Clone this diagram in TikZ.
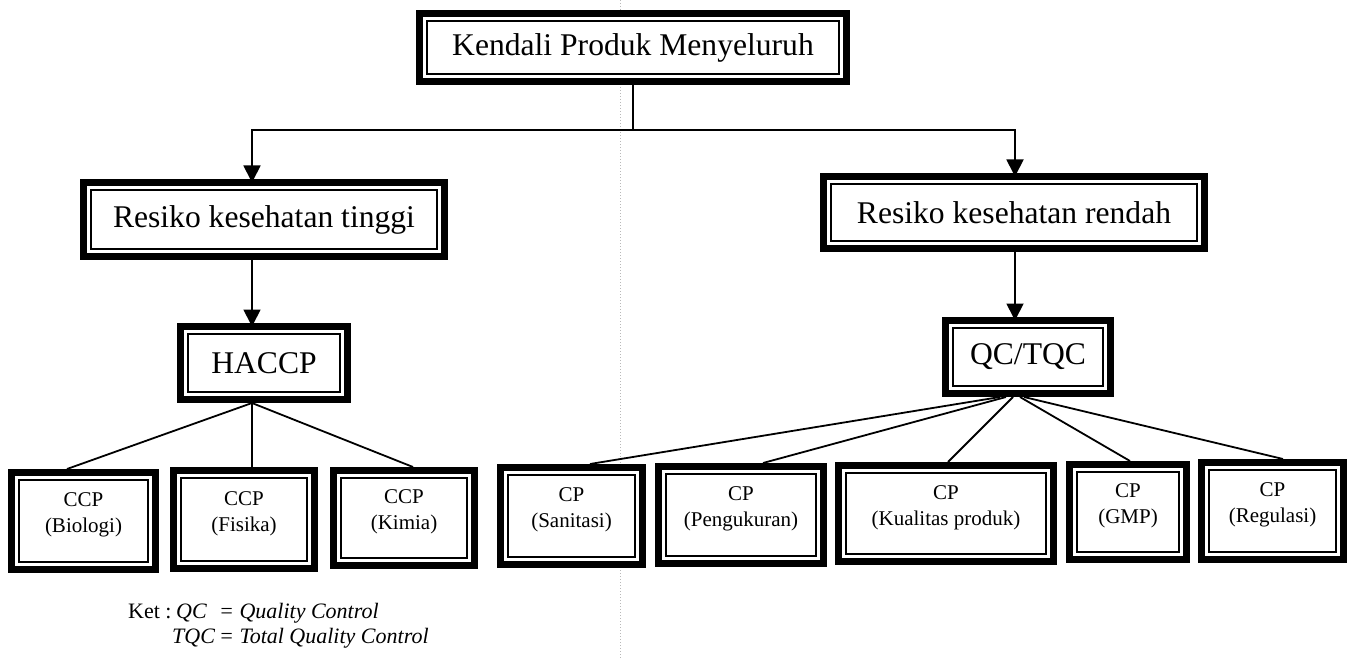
\documentclass[tikz,border=0pt]{standalone}
\usepackage{fontspec}
\setmainfont{Liberation Serif}
\usetikzlibrary{arrows.meta}
\begin{document}
\begin{tikzpicture}[x=1pt,y=-1pt,
  frame/.style={draw, line width=7pt, fill=white, inner sep=0pt, align=center,
    path picture={\draw[line width=2pt]
      ([shift={(7.5pt,-7.5pt)}]path picture bounding box.north west) rectangle
      ([shift={(-7.5pt,7.5pt)}]path picture bounding box.south east);}},
  big/.style={frame, font=\fontsize{31.6}{37}\selectfont},
  boxtext/.style={align=center, inner sep=0pt, font=\fontsize{21}{26}\selectfont},
  ln/.style={line width=1.8pt},
  arr/.style={ln, -{Triangle[width=17pt,length=17pt]}, shorten >=-3.5pt},
  note/.style={inner sep=0pt, anchor=base west, font=\fontsize{22}{26}\selectfont}]

\useasboundingbox (0,0) rectangle (1352,658);

% faint dotted fold line down the page
\draw[gray!55, dotted, line width=1pt] (620,0) -- (620,658);

% upper levels
\node[big, minimum width=427pt, minimum height=68pt] (top) at (633,47.5) {Kendali Produk Menyeluruh};
\node[big, minimum width=361pt, minimum height=74pt] (tin) at (264,219.5) {Resiko kesehatan tinggi};
\node[big, minimum width=381pt, minimum height=72pt] (ren) at (1014,212.5) {Resiko kesehatan rendah};
\node[big, minimum width=167pt, minimum height=73pt] (hac) at (264,363) {HACCP};
\node[big, minimum width=165pt, minimum height=73pt] (qc) at (1028,357) {QC/TQC};

% control point boxes
\node[frame, minimum width=144pt, minimum height=97pt] (bio) at (83.5,521) {};
\node[frame, minimum width=141pt, minimum height=98pt] (fis) at (244,519.5) {};
\node[frame, minimum width=141pt, minimum height=95pt] (kim) at (404,518) {};
\node[frame, minimum width=142pt, minimum height=97pt] (san) at (571.5,516) {};
\node[frame, minimum width=165pt, minimum height=97pt] (pen) at (741,515) {};
\node[frame, minimum width=215pt, minimum height=96pt] (kua) at (946,513.5) {};
\node[frame, minimum width=117pt, minimum height=95pt] (gmp) at (1128,512) {};
\node[frame, minimum width=142pt, minimum height=97pt] (reg) at (1272.5,511) {};

\node[boxtext] (tbio) at ([yshift=6pt]bio.center) {CCP\\(Biologi)};
\node[boxtext] (tfis) at ([yshift=6pt]fis.center) {CCP\\(Fisika)};
\node[boxtext] (tkim) at ([yshift=6pt]kim.center) {CCP\\(Kimia)};
\node[boxtext] (tsan) at ([yshift=6pt]san.center) {CP\\(Sanitasi)};
\node[boxtext] (tpen) at ([yshift=6pt]pen.center) {CP\\(Pengukuran)};
\node[boxtext] (tkua) at ([yshift=6pt]kua.center) {CP\\(Kualitas produk)};
\node[boxtext] (tgmp) at ([yshift=6pt]gmp.center) {CP\\(GMP)};
\node[boxtext] (treg) at ([yshift=6pt]reg.center) {CP\\(Regulasi)};

% branch from the top box
\coordinate (jm) at (633,130);
\coordinate (jl) at (252,130);
\coordinate (jr) at (1015,130);
\draw[ln] (top.south) -- (jm);
\draw[arr] (jm) -- (jl) -- (jl |- tin.north);
\draw[arr] (jm) -- (jr) -- (jr |- ren.north);

% down to HACCP and QC/TQC
\coordinate (cl) at (252,0);
\coordinate (cr) at (1015,0);
\draw[arr] (cl |- tin.south) -- (cl |- hac.north);
\draw[arr] (cr |- ren.south) -- (cr |- qc.north);

% HACCP fan
\coordinate (hj) at (cl |- hac.south);
\draw[ln] (hj) -- ([xshift=-16.5pt]bio.north);
\draw[ln] (hj) -- ([xshift=8pt]fis.north);
\draw[ln] (hj) -- ([xshift=9pt]kim.north);

% QC/TQC fan
\draw[ln] ([xshift=-28pt]qc.south) -- ([xshift=18.5pt]san.north);
\draw[ln] ([xshift=-22pt]qc.south) -- ([xshift=22pt]pen.north);
\draw[ln] ([xshift=-15pt]qc.south) -- ([xshift=2pt]kua.north);
\draw[ln] ([xshift=-8pt]qc.south) -- ([xshift=2pt]gmp.north);
\draw[ln] ([xshift=-4pt]qc.south) -- ([xshift=10.5pt]reg.north);

% legend
\node[note] (ket) at (128,618) {Ket :};
\node[note] (qa) at (176,618) {\itshape QC};
\node[note] (qb) at (219,618) {\itshape = Quality Control};
\node[note] (ta) at (172,643) {\itshape TQC};
\node[note] (tb) at (219,643) {\itshape = Total Quality Control};
\end{tikzpicture}
\end{document}
